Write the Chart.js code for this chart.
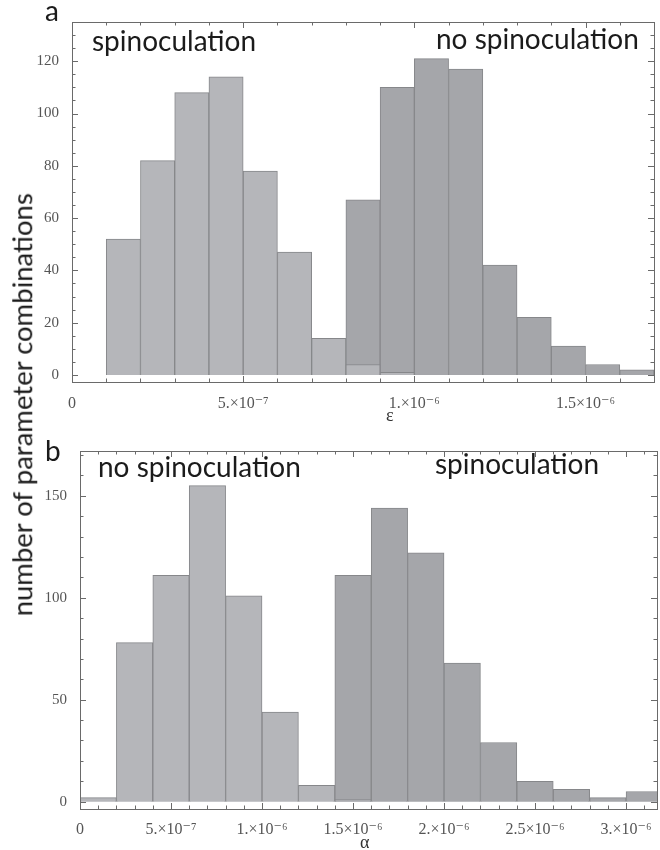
<!DOCTYPE html>
<html>
<head>
<meta charset="utf-8">
<script src="https://cdn.jsdelivr.net/npm/chart.js@4.4.0/dist/chart.umd.min.js"></script>
<style>
  html, body { margin: 0; padding: 0; background: #fff; }
  #page { position: relative; width: 660px; height: 850px; overflow: hidden; }
  .panel { position: absolute; left: 0; width: 660px; height: 425px; }
  .txt { position: absolute; font-family: Lato, "Open Sans", sans-serif; color: #1b1b1b; white-space: nowrap; line-height: 1; }
  .ser { position: absolute; font-family: "Liberation Serif", "DejaVu Serif", serif; color: #333; line-height: 1; }
</style>
</head>
<body>
<div id="page">
  <canvas id="chartA" class="panel" style="top:0" width="660" height="425"></canvas>
  <canvas id="chartB" class="panel" style="top:425px" width="660" height="425"></canvas>

  <div class="txt" style="left:45px; top:-4px; font-size:28px;">a</div>
  <div class="txt" style="left:45px; top:436px; font-size:28px;">b</div>
  <div class="txt" style="left:92px; top:26px; font-size:28px;">spinoculation</div>
  <div class="txt" style="left:436px; top:24px; font-size:28px;">no spinoculation</div>
  <div class="txt" style="left:98px; top:452px; font-size:28px;">no spinoculation</div>
  <div class="txt" style="left:435px; top:449px; font-size:28px;">spinoculation</div>
  <div class="txt" style="left:-228px; top:391px; width:500px; text-align:center; font-size:27.5px; transform:rotate(-90deg);">number of parameter combinations</div>
  <div class="ser" style="left:386px; top:406px; font-size:18px;">ε</div>
  <div class="ser" style="left:360px; top:833px; font-size:18px;">α</div>
</div>
<script>
// panel a: epsilon histograms (lower bin edges, counts)
const epsBinWidth = 1e-7;
const epsSpinEdges = [1e-7, 2e-7, 3e-7, 4e-7, 5e-7, 6e-7, 7e-7, 8e-7, 9e-7];
const epsSpinCounts = [52, 82, 108, 114, 78, 47, 14, 4, 1];
const epsNoSpinEdges = [8e-7, 9e-7, 10e-7, 11e-7, 12e-7, 13e-7, 14e-7, 15e-7, 16e-7];
const epsNoSpinCounts = [67, 110, 121, 117, 42, 22, 11, 4, 2];

// panel b: alpha histograms
const alphaBinWidth = 2e-7;
const alphaNoSpinEdges = [0, 2e-7, 4e-7, 6e-7, 8e-7, 10e-7, 12e-7, 14e-7];
const alphaNoSpinCounts = [2, 78, 111, 155, 101, 44, 8, 1];
const alphaSpinEdges = [14e-7, 16e-7, 18e-7, 20e-7, 22e-7, 24e-7, 26e-7, 28e-7, 30e-7];
const alphaSpinCounts = [111, 144, 122, 68, 29, 10, 6, 2, 5];

// tick labels
const epsTickValues = [0, 5e-7, 1e-6, 1.5e-6];
const epsTickLabels = ['0', '5.×10⁻⁷', '1.×10⁻⁶', '1.5×10⁻⁶'];
const alphaTickValues = [0, 5e-7, 1e-6, 1.5e-6, 2e-6, 2.5e-6, 3e-6];
const alphaTickLabels = ['0', '5.×10⁻⁷', '1.×10⁻⁶', '1.5×10⁻⁶', '2.×10⁻⁶', '2.5×10⁻⁶', '3.×10⁻⁶'];
const countTicksA = [0, 20, 40, 60, 80, 100, 120];
const countTicksB = [0, 50, 100, 150];

const LIGHT = '#b5b6ba';
const DARK = '#a5a6aa';
const EDGE = '#86878a';
const FRAME = '#6a6a6a';

function toPoints(edges, counts, width) {
    return edges.map((e, i) => ({ x: e + width / 2, y: counts[i] }));
}

// frame on all four sides with inward ticks, Mathematica style
const frameTicks = {
    id: 'frameTicks',
    afterDraw(chart, args, opts) {
        const { ctx, chartArea: a, scales } = chart;
        const x = scales.x, y = scales.y;
        ctx.save();
        ctx.strokeStyle = FRAME;
        ctx.lineWidth = 1;
        ctx.strokeRect(Math.round(a.left) + 0.5, Math.round(a.top) + 0.5,
            Math.round(a.right - a.left), Math.round(a.bottom - a.top));
        ctx.beginPath();
        const isMajor = (v, vals) => vals.some(m => Math.abs(m - v) < opts.xStep * 1e-3);
        for (let k = 0; ; k++) {
            const v = k * opts.xStep;
            if (v > x.max + 1e-12) break;
            const px = Math.round(x.getPixelForValue(v)) + 0.5;
            const len = isMajor(v, opts.xMajor) ? 6 : 3.5;
            ctx.moveTo(px, a.bottom); ctx.lineTo(px, a.bottom - len);
            ctx.moveTo(px, a.top); ctx.lineTo(px, a.top + len);
        }
        for (let v = 0; v <= y.max; v += opts.yStep) {
            const py = Math.round(y.getPixelForValue(v)) + 0.5;
            const len = opts.yMajor.includes(v) ? 6 : 3.5;
            ctx.moveTo(a.left, py); ctx.lineTo(a.left + len, py);
            ctx.moveTo(a.right, py); ctx.lineTo(a.right - len, py);
        }
        ctx.stroke();
        ctx.restore();
    }
};

function makeHist(canvasId, cfg) {
    return new Chart(document.getElementById(canvasId), {
        type: 'bar',
        data: {
            datasets: [
                { data: cfg.lightData, backgroundColor: LIGHT },
                { data: cfg.darkData, backgroundColor: DARK }
            ]
        },
        options: {
            responsive: false,
            animation: false,
            devicePixelRatio: 1,
            grouped: false,
            barPercentage: 1,
            categoryPercentage: 1,
            borderColor: EDGE,
            borderWidth: 1,
            layout: { padding: cfg.padding },
            plugins: {
                legend: { display: false },
                tooltip: { enabled: false },
                frameTicks: { xStep: cfg.xStep, xMajor: cfg.xTicks, yStep: cfg.yStep, yMajor: cfg.yTicks }
            },
            scales: {
                x: {
                    type: 'linear', offset: false,
                    min: 0, max: cfg.xMax,
                    grid: { display: false, offset: false },
                    border: { display: false },
                    afterBuildTicks: s => { s.ticks = cfg.xTicks.map(v => ({ value: v })); },
                    afterFit: s => { s.height = cfg.xAxisHeight; },
                    ticks: {
                        autoSkip: false, maxRotation: 0, padding: cfg.xPad,
                        color: '#555', font: { family: '"Liberation Serif", "DejaVu Serif", serif', size: 16 },
                        callback: (v, i) => cfg.xLabels[i]
                    }
                },
                y: {
                    min: cfg.yMin, max: cfg.yMax,
                    grid: { display: false },
                    border: { display: false },
                    afterBuildTicks: s => { s.ticks = cfg.yTicks.map(v => ({ value: v })); },
                    afterFit: s => { s.width = cfg.yAxisWidth; },
                    ticks: {
                        padding: 5,
                        color: '#555', font: { family: '"Liberation Serif", "DejaVu Serif", serif', size: 15 }
                    }
                }
            }
        },
        plugins: [frameTicks]
    });
}

document.addEventListener('DOMContentLoaded', function () {
    makeHist('chartA', {
        lightData: toPoints(epsSpinEdges, epsSpinCounts, epsBinWidth),
        darkData: toPoints(epsNoSpinEdges, epsNoSpinCounts, epsBinWidth),
        xMax: 1.7e-6, yMin: -2.7, yMax: 135,
        xTicks: epsTickValues, xLabels: epsTickLabels, xStep: 1e-7,
        yTicks: countTicksA, yStep: 5,
        padding: { top: 22, right: 6, left: 0, bottom: 0 },
        yAxisWidth: 72, xAxisHeight: 43, xPad: 4
    });
    makeHist('chartB', {
        lightData: toPoints(alphaNoSpinEdges, alphaNoSpinCounts, alphaBinWidth),
        darkData: toPoints(alphaSpinEdges, alphaSpinCounts, alphaBinWidth),
        xMax: 3.17e-6, yMin: -3.6, yMax: 172,
        xTicks: alphaTickValues, xLabels: alphaTickLabels, xStep: 1e-7,
        yTicks: countTicksB, yStep: 10,
        padding: { top: 26, right: 3, left: 0, bottom: 0 },
        yAxisWidth: 80, xAxisHeight: 41, xPad: 3
    });
});
</script>
</body>
</html>
